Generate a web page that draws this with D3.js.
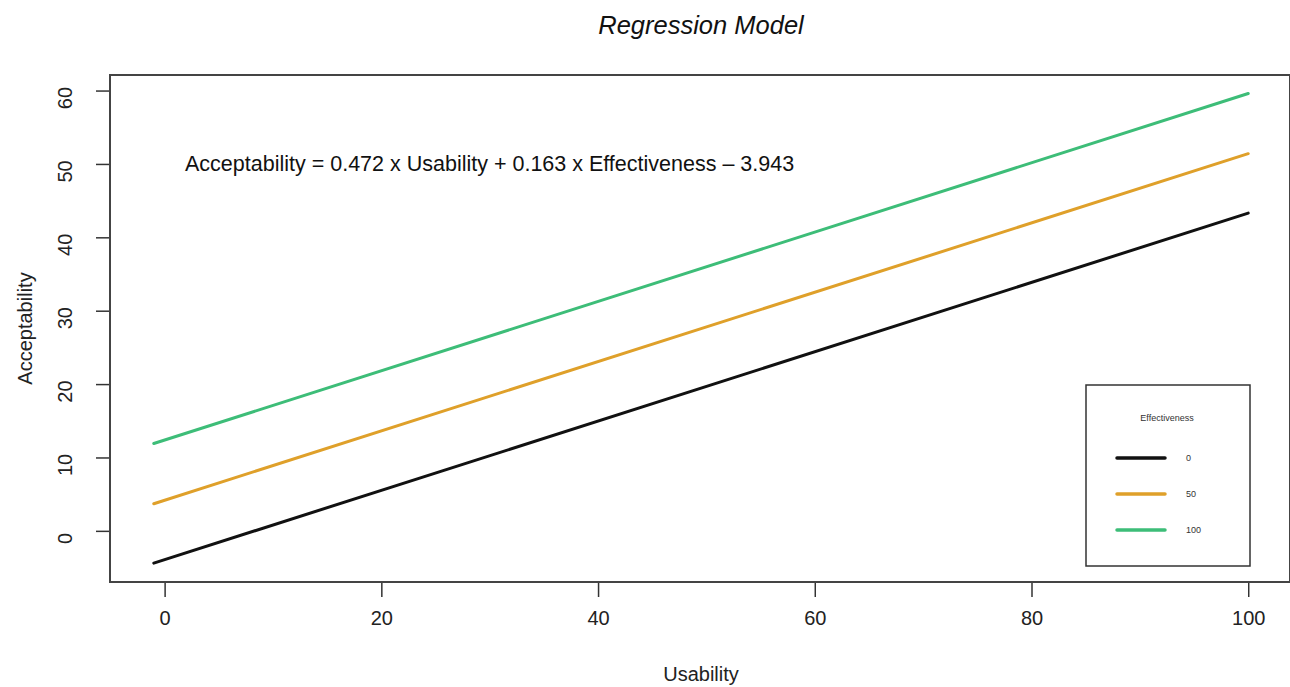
<!DOCTYPE html>
<html>
<head>
<meta charset="utf-8">
<script src="https://cdn.jsdelivr.net/npm/d3@7"></script>
<style>
  html, body { margin: 0; padding: 0; background: #fff; }
  svg { display: block; font-family: "Liberation Sans", Arial, Helvetica, sans-serif; }
</style>
</head>
<body>
<svg id="chart" width="1290" height="687"></svg>
<script>
// ---- data ----
const usability = [-1, 100];                 // x endpoints of each fitted line
const effectivenessLevels = ["0", "50", "100"];
const acceptability0 = [-4.4, 43.3];
const acceptability50 = [3.7, 51.4];
const acceptability100 = [11.9, 59.6];
const seriesColors = ["#111111", "#dfa02a", "#3dbd78"];
const xTicks = [0, 20, 40, 60, 80, 100];
const yTicks = [0, 10, 20, 30, 40, 50, 60];
const titleText = "Regression Model";
const equationText = "Acceptability = 0.472 x Usability + 0.163 x Effectiveness \u2013 3.943";
const xLabel = "Usability";
const yLabel = "Acceptability";
const legendTitle = "Effectiveness";

const seriesValues = [acceptability0, acceptability50, acceptability100];

const svg = d3.select("#chart");
const box = { left: 110, right: 1290, top: 75, bottom: 582 };

const x = d3.scaleLinear().domain([-5.04, 104.04]).range([box.left, box.right + 2]);
const y = d3.scaleLinear().domain([-6.97, 62.12]).range([box.bottom, box.top]);

// title
svg.append("text")
  .attr("x", 701).attr("y", 34)
  .attr("text-anchor", "middle")
  .attr("font-size", 25.5).attr("font-style", "italic")
  .attr("fill", "#111")
  .text(titleText);

// data lines
const line = d3.line().x(d => x(d[0])).y(d => y(d[1]));
seriesValues.forEach((vals, i) => {
  svg.append("path")
    .datum(usability.map((u, j) => [u, vals[j]]))
    .attr("d", line)
    .attr("fill", "none")
    .attr("stroke", seriesColors[i])
    .attr("stroke-width", 3)
    .attr("stroke-linecap", "round");
});

// axes
const xAxis = svg.append("g")
  .attr("transform", `translate(0,${box.bottom})`)
  .call(d3.axisBottom(x).tickValues(xTicks).tickSize(15).tickPadding(14).tickFormat(d3.format("d")));
xAxis.select(".domain").remove();
xAxis.selectAll("line").attr("stroke", "#333").attr("stroke-width", 1.5);
xAxis.selectAll("text").attr("font-size", 20).attr("fill", "#222").attr("font-family", null);

const yAxis = svg.append("g")
  .attr("transform", `translate(${box.left},0)`)
  .call(d3.axisLeft(y).tickValues(yTicks).tickSize(14).tickFormat(d3.format("d")));
yAxis.select(".domain").remove();
yAxis.selectAll("line").attr("stroke", "#333").attr("stroke-width", 1.5);
yAxis.selectAll("text")
  .attr("font-size", 20).attr("fill", "#222").attr("font-family", null)
  .attr("text-anchor", "middle").attr("dy", null).attr("x", null)
  .attr("transform", "translate(-38,7) rotate(-90)");

// plot box
svg.append("rect")
  .attr("x", box.left).attr("y", box.top)
  .attr("width", box.right - box.left).attr("height", box.bottom - box.top)
  .attr("fill", "none").attr("stroke", "#444").attr("stroke-width", 2);

// axis titles
svg.append("text")
  .attr("x", 701).attr("y", 681)
  .attr("text-anchor", "middle").attr("font-size", 20).attr("fill", "#222")
  .text(xLabel);
svg.append("text")
  .attr("transform", `translate(32,${(box.top + box.bottom) / 2}) rotate(-90)`)
  .attr("text-anchor", "middle").attr("font-size", 20).attr("fill", "#222")
  .text(yLabel);

// equation
svg.append("text")
  .attr("x", 185).attr("y", 171)
  .attr("font-size", 21.5).attr("fill", "#111")
  .text(equationText);

// legend
const lg = svg.append("g");
lg.append("rect")
  .attr("x", 1086).attr("y", 385).attr("width", 164).attr("height", 181)
  .attr("fill", "#fff").attr("stroke", "#333").attr("stroke-width", 1.5);
lg.append("text")
  .attr("x", 1167).attr("y", 421)
  .attr("text-anchor", "middle").attr("font-size", 9).attr("fill", "#333")
  .text(legendTitle);
const ly = d3.scalePoint().domain(effectivenessLevels).range([458, 530]);
effectivenessLevels.forEach((lev, i) => {
  lg.append("line")
    .attr("x1", 1117).attr("x2", 1165)
    .attr("y1", ly(lev)).attr("y2", ly(lev))
    .attr("stroke", seriesColors[i]).attr("stroke-width", 3.5)
    .attr("stroke-linecap", "round");
  lg.append("text")
    .attr("x", 1186).attr("y", ly(lev) + 3)
    .attr("font-size", 9).attr("fill", "#333")
    .text(lev);
});
</script>
</body>
</html>
